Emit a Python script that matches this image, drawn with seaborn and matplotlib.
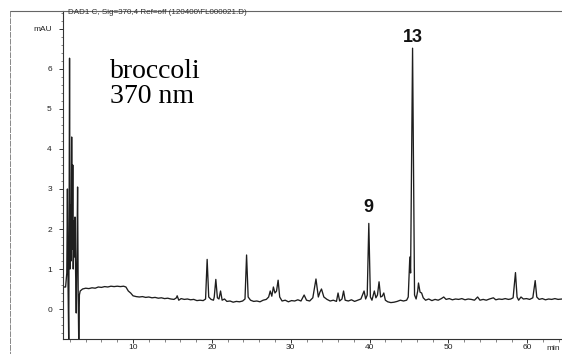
import matplotlib
matplotlib.use("Agg")
import matplotlib.pyplot as plt
from matplotlib.lines import Line2D
from matplotlib.ticker import MultipleLocator, FixedLocator
import seaborn as sns
import pandas as pd

# ---- data (retention time in min, absorbance in mAU) ----
time_min = [
    1.12, 1.45, 1.60, 1.68, 1.76, 1.85, 1.95, 2.02, 2.08, 2.14, 2.22, 2.30, 2.36, 2.42,
    2.50, 2.56, 2.64, 2.72, 2.80, 2.88, 2.97, 3.05, 3.12, 3.20, 3.30,
    3.6, 4.0, 4.4, 4.8, 5.2, 5.6, 6.0, 6.4, 6.8, 7.2, 7.6, 8.0, 8.4, 8.8, 9.1, 9.4, 9.7,
    10.0, 10.4, 10.8, 11.2, 11.6, 12.0, 12.4, 12.8, 13.2, 13.6, 14.0, 14.4, 14.8, 15.2,
    15.5, 15.6, 15.8, 16.1, 16.5, 16.9, 17.3, 17.7, 18.1, 18.5, 18.9, 19.2, 19.4, 19.6,
    19.9, 20.2, 20.3, 20.5, 20.7, 20.9, 21.1, 21.3, 21.6, 21.9, 22.3, 22.7, 23.1, 23.5,
    23.9, 24.2, 24.4, 24.6, 24.9, 25.3, 25.7, 26.1, 26.5, 26.9, 27.2, 27.4, 27.6, 27.8,
    28.0, 28.2, 28.4, 28.6, 28.9, 29.3, 29.7, 30.1, 30.5, 30.9, 31.3, 31.7, 32.0, 32.4,
    32.8, 33.2, 33.5, 33.7, 33.9, 34.2, 34.6, 35.0, 35.4, 35.8, 36.0, 36.2, 36.5, 36.7,
    36.9, 37.3, 37.7, 38.1, 38.5, 38.9, 39.3, 39.5, 39.7, 39.9, 40.1, 40.3, 40.6, 40.8,
    41.0, 41.2, 41.4, 41.6, 41.8, 42.0, 42.3, 42.7, 43.1, 43.5, 43.9, 44.3, 44.7, 44.9,
    45.1, 45.2, 45.45, 45.7, 45.9, 46.1, 46.2, 46.4, 46.6, 46.8, 47.1, 47.5, 47.9, 48.3,
    48.7, 49.1, 49.4, 49.7, 50.1, 50.5, 50.9, 51.3, 51.7, 52.1, 52.5, 52.9, 53.3, 53.7,
    54.0, 54.4, 54.8, 55.2, 55.7, 56.0, 56.4, 56.8, 57.2, 57.6, 57.9, 58.2, 58.5, 58.7,
    58.9, 59.2, 59.5, 59.9, 60.3, 60.7, 61.0, 61.2, 61.5, 61.9, 62.3, 62.7, 63.1, 63.5,
    63.9, 64.4,
]
absorbance_mau = [
    0.55, 0.55, 0.90, 3.00, 0.60, -0.90, 6.27, 1.00, 2.60, 1.20, 4.30, 1.50, 3.60, 1.00,
    2.20, 1.30, 2.30, 0.90, -0.10, 1.20, 3.05, 0.30, -0.90, 0.35, 0.45,
    0.50, 0.52, 0.51, 0.53, 0.52, 0.55, 0.54, 0.56, 0.55, 0.57, 0.56, 0.57, 0.56, 0.57, 0.55, 0.45, 0.40,
    0.33, 0.31, 0.30, 0.31, 0.29, 0.30, 0.28, 0.29, 0.27, 0.28, 0.26, 0.27, 0.25, 0.24,
    0.28, 0.33, 0.22, 0.26, 0.24, 0.25, 0.23, 0.24, 0.21, 0.22, 0.21, 0.25, 1.24, 0.30,
    0.24, 0.22, 0.30, 0.74, 0.28, 0.25, 0.45, 0.22, 0.25, 0.19, 0.20, 0.17, 0.19, 0.18,
    0.20, 0.25, 1.35, 0.30, 0.22, 0.19, 0.20, 0.18, 0.22, 0.24, 0.30, 0.45, 0.32, 0.55,
    0.40, 0.45, 0.72, 0.30, 0.20, 0.22, 0.18, 0.21, 0.20, 0.23, 0.20, 0.35, 0.22, 0.20,
    0.28, 0.75, 0.30, 0.42, 0.50, 0.30, 0.24, 0.20, 0.22, 0.19, 0.40, 0.20, 0.25, 0.45,
    0.22, 0.20, 0.23, 0.19, 0.22, 0.25, 0.45, 0.25, 0.35, 2.14, 0.30, 0.22, 0.45, 0.28,
    0.35, 0.68, 0.30, 0.32, 0.40, 0.22, 0.18, 0.16, 0.17, 0.19, 0.22, 0.20, 0.22, 0.30,
    1.30, 0.90, 6.52, 0.35, 0.25, 0.45, 0.65, 0.42, 0.40, 0.28, 0.22, 0.25, 0.21, 0.24,
    0.22, 0.26, 0.30, 0.24, 0.26, 0.23, 0.25, 0.24, 0.26, 0.23, 0.25, 0.24, 0.22, 0.30,
    0.22, 0.24, 0.22, 0.25, 0.28, 0.23, 0.25, 0.24, 0.26, 0.24, 0.25, 0.28, 0.91, 0.30,
    0.22, 0.30, 0.25, 0.26, 0.24, 0.28, 0.71, 0.30, 0.24, 0.26, 0.23, 0.25, 0.24, 0.26,
    0.24, 0.25,
]

x_major_ticks = [10, 20, 30, 40, 50, 60]
y_major_ticks = [0, 1, 2, 3, 4, 5, 6, 7]
y_tick_labels = ["0", "1", "2", "3", "4", "5", "6", "mAU"]
peak_labels = ["9", "13"]
peak_times = [39.9, 45.5]
peak_label_heights = [2.55, 6.78]

title_text = "DAD1 C, Sig=370,4 Ref=off (120400\\FL000021.D)"
sample_line1 = "broccoli"
sample_line2 = "370 nm"

# ---- figure ----
sns.set_theme(style="ticks")
plt.rcParams["font.family"] = ["Liberation Sans", "DejaVu Sans"]

W, H = 562, 354
fig = plt.figure(figsize=(W / 100, H / 100), dpi=100)
fig.patch.set_facecolor("white")

ax_left, ax_right, ax_top, ax_bottom = 63, 562, 11, 339
ax = fig.add_axes([ax_left / W, 1 - ax_bottom / H, (ax_right - ax_left) / W, (ax_bottom - ax_top) / H])
ax.set_facecolor("white")

df = pd.DataFrame({"time": time_min, "mAU": absorbance_mau})
sns.lineplot(data=df, x="time", y="mAU", ax=ax, color="#1e1e1e", linewidth=0.95,
             estimator=None, sort=False)

ax.set_xlim(1.12, 64.4)
ax.set_ylim(-0.75, 7.45)
ax.set_xlabel("")
ax.set_ylabel("")

for s in ["top", "right"]:
    ax.spines[s].set_visible(False)
for s in ["left", "bottom"]:
    ax.spines[s].set_color("#333333")
    ax.spines[s].set_linewidth(0.8)

ax.xaxis.set_major_locator(FixedLocator(x_major_ticks))
ax.xaxis.set_minor_locator(MultipleLocator(2))
ax.yaxis.set_major_locator(FixedLocator(y_major_ticks))
ax.set_yticklabels(y_tick_labels)
ax.yaxis.set_minor_locator(MultipleLocator(0.2))

ax.tick_params(axis="both", which="major", length=3, width=0.7, color="#333333",
               labelsize=6, labelcolor="#222222", direction="out")
ax.tick_params(axis="both", which="minor", length=1.8, width=0.5, color="#555555", direction="out")
ax.tick_params(axis="x", pad=0.8)
ax.tick_params(axis="y", pad=5)

# peak numbers
for lab, t, h in zip(peak_labels, peak_times, peak_label_heights):
    ax.text(t, h, lab, ha="center", va="center", fontsize=13, fontweight="bold",
            color="#111111", family=["Liberation Sans", "DejaVu Sans"])

# frame lines of the scanned report
fig.add_artist(Line2D([10 / W, 1.0], [1 - 11 / H, 1 - 11 / H], color="#666666", linewidth=0.8))
fig.add_artist(Line2D([10 / W, 10 / W], [1 - 11 / H, 0.0], color="#888888", linewidth=0.7,
                      linestyle=(0, (6, 1))))

fig.text(68 / W, 1 - 13 / H, title_text, ha="left", va="center", fontsize=5.8, color="#333333")

fig.text(110 / W, 1 - 78 / H, sample_line1, ha="left", va="baseline", fontsize=20,
         family=["Liberation Serif", "DejaVu Serif"], color="black")
fig.text(110 / W, 1 - 103 / H, sample_line2, ha="left", va="baseline", fontsize=20,
         family=["Liberation Serif", "DejaVu Serif"], color="black")

fig.text(546 / W, 1 - 348 / H, "min", ha="left", va="center", fontsize=6, color="#222222")

fig.savefig("out.png", dpi=100)
